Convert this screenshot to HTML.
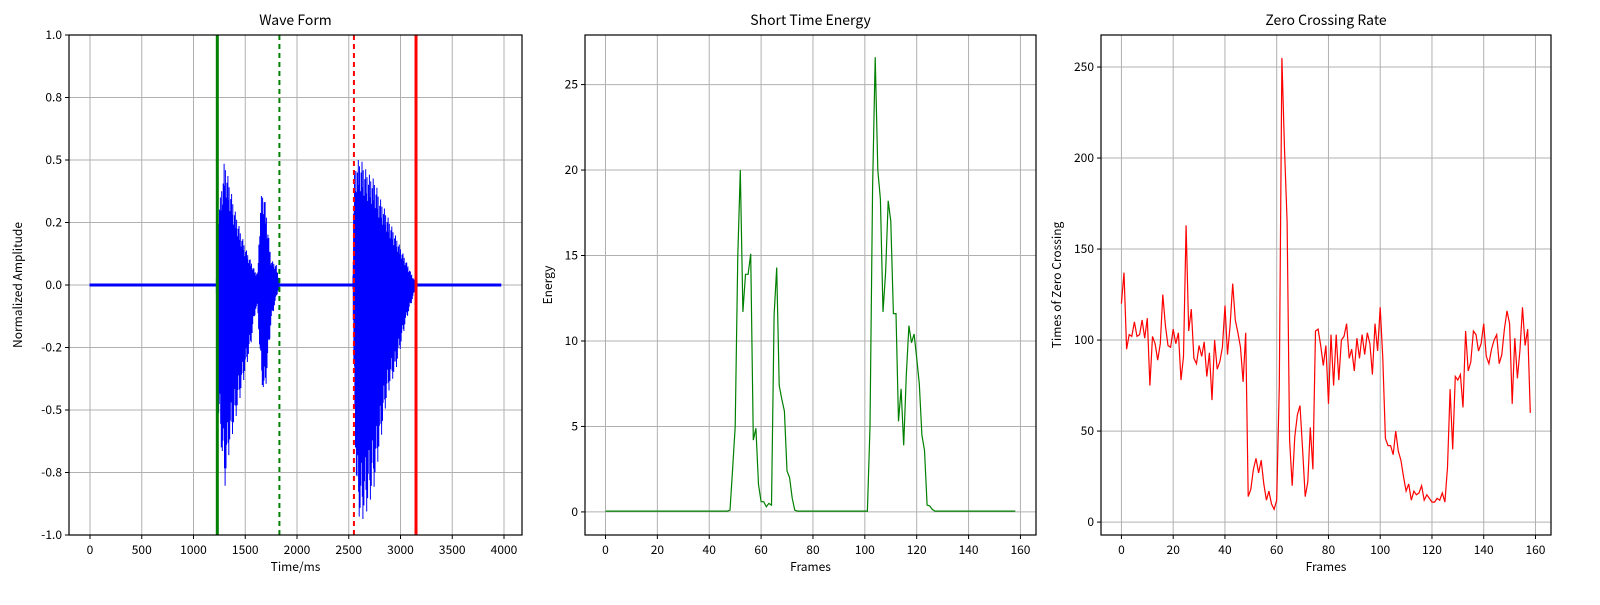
<!DOCTYPE html>
<html><head><meta charset="utf-8"><style>
body{margin:0;background:#fff}
svg text{font-family:"Noto Sans CJK SC","Liberation Sans",sans-serif;fill:#000}
</style></head><body>
<svg id="fig" width="1600" height="600" xmlns="http://www.w3.org/2000/svg"></svg>
<script>
// Wave form envelope (ms, max, min)
const waveTimes=[0,1220,1230,1260,1300,1350,1400,1450,1500,1550,1600,1620,1650,1680,1700,1750,1800,1830,2540,2550,2580,2620,2680,2750,2800,2850,2900,2950,3000,3050,3100,3150,3970];
const waveMax=[0.006,0.006,0.3,0.35,0.5,0.4,0.3,0.22,0.15,0.1,0.05,0.05,0.35,0.38,0.3,0.1,0.08,0.006,0.006,0.45,0.5,0.5,0.45,0.42,0.35,0.3,0.25,0.2,0.15,0.1,0.05,0.006,0.006];
const waveMin=[-0.006,-0.006,-0.5,-0.6,-0.82,-0.65,-0.55,-0.45,-0.35,-0.25,-0.1,-0.1,-0.35,-0.45,-0.4,-0.15,-0.05,-0.006,-0.006,-0.4,-0.9,-0.95,-0.9,-0.8,-0.65,-0.5,-0.4,-0.35,-0.25,-0.15,-0.08,-0.006,-0.006];
const markerTimes=[1230,1830,2550,3150];
const energy=[];
for(let i=0;i<=47;i++)energy.push(0.05);
energy.push(0.1,2.5,5,15,20,11.7,13.9,13.9,15.1,4.2,4.9,1.6,0.6,0.6,0.3,0.5,0.4,11.5,14.3,7.4,6.6,5.9,2.4,2.0,0.8,0.1);
for(let i=74;i<=101;i++)energy.push(0.05);
energy.push(5,19,26.6,20,18.3,11.7,14,18.2,17,11.6,11.6,5.3,7.2,3.9,8,10.9,9.9,10.4,9,7.5,4.5,3.6,0.4,0.35,0.15);
for(let i=127;i<=158;i++)energy.push(0.05);
const zcr=[120,137,95,103,102,110,102,103,111,101,112,75,102,98,89,98,125,108,97,96,106,98,104,78,91,163,105,117,90,87,97,91,99,80,93,67,100,84,88,96,119,92,108,131,111,104,96,77,104,14,18,29,35,27,34,21,12,17,10,7,12,75,255,205,165,45,20,47,59,64,40,14,22,52,29,105,106,97,86,97,65,103,75,103,78,100,102,109,90,95,83,101,90,103,92,104,98,81,109,94,118,90,46,42,42,37,50,39,34,25,17,21,12,17,15,16,20,12,15,13,11,11,13,12,16,11,30,73,40,80,78,81,63,105,83,88,105,103,94,98,109,91,87,95,100,103,87,92,106,116,109,65,101,79,94,118,97,106,60];
const xTicks1=[0,500,1000,1500,2000,2500,3000,3500,4000];
const yTicks1=[-1.0,-0.8,-0.5,-0.2,0.0,0.2,0.5,0.8,1.0];
const yTicks1Pos=[-1.0,-0.75,-0.5,-0.25,0.0,0.25,0.5,0.75,1.0];
const frameTicks=[0,20,40,60,80,100,120,140,160];
const yTicks2=[0,5,10,15,20,25];
const yTicks3=[0,50,100,150,200,250];

const NS="http://www.w3.org/2000/svg";
const svg=document.getElementById('fig');
function mk(tag,attrs,parent){const e=document.createElementNS(NS,tag);for(const k in attrs)e.setAttribute(k,attrs[k]);(parent||svg).appendChild(e);return e;}
function lin(d0,d1,r0,r1){return v=>r0+(v-d0)*(r1-r0)/(d1-d0);}

function axes(o){
  const g=mk('g',{});
  
  
  const x=lin(o.xd[0],o.xd[1],o.L,o.R), y=lin(o.yd[0],o.yd[1],535,35);
  o.xt.forEach(v=>{const px=x(v);
    const gl=mk('line',{x1:px,x2:px,y1:35,y2:535,stroke:'#b0b0b0','stroke-width':1},g);
    
    mk('line',{x1:px,x2:px,y1:535,y2:539,stroke:'#000'},g);
    const t=mk('text',{x:px,y:554,'font-size':12,'text-anchor':'middle'},g);t.textContent=String(v);
    });
  o.yt.forEach((v,i)=>{const py=y(o.ytp?o.ytp[i]:v);
    const gl=mk('line',{x1:o.L,x2:o.R,y1:py,y2:py,stroke:'#b0b0b0','stroke-width':1},g);
    
    mk('line',{x1:o.L-4,x2:o.L,y1:py,y2:py,stroke:'#000'},g);
    const t=mk('text',{x:o.L-7,y:py+4,'font-size':12,'text-anchor':'end'},g);t.textContent=o.fmt?o.fmt(v):String(v);
    });
  const tt=mk('text',{x:(o.L+o.R)/2,y:25,'font-size':14,'text-anchor':'middle'},g);tt.textContent=o.title;
  
  const xl=mk('text',{x:(o.L+o.R)/2,y:571,'font-size':12,'text-anchor':'middle'},g);xl.textContent=o.xlabel;
  
  const yl=mk('text',{x:0,y:0,'font-size':12,'text-anchor':'middle',transform:`translate(${o.ylx},285) rotate(-90)`},g);yl.textContent=o.ylabel;
  
  return {g,x,y};
}
function frame(g,L,R){const f=mk('rect',{x:L,y:35,width:R-L,height:500,fill:'none',stroke:'#000','stroke-width':1.2},g);
  }

// Plot 1
const a1=axes({name:'wave-form-chart',L:69,R:522,xd:[-203,4174],yd:[-1,1],xt:xTicks1,yt:yTicks1,ytp:yTicks1Pos,fmt:v=>v.toFixed(1),title:'Wave Form',xlabel:'Time/ms',ylabel:'Normalized Amplitude',ylx:22});
const modA=[1,0.55,0.8,0.4,0.95,0.65,0.3,0.75,0.5,0.9,0.45,0.7];
const modB=[0.65,0.9,0.4,1,0.55,0.8,0.95,0.35,0.85,0.5,0.75,0.6];
let d='';let n=0;
for(let t=0;t<=3970;t+=3){
  let k=0;while(k<waveTimes.length-2&&waveTimes[k+1]<=t)k++;
  const f=(t-waveTimes[k])/(waveTimes[k+1]-waveTimes[k]);
  const mx=waveMax[k]+(waveMax[k+1]-waveMax[k])*f, mn=waveMin[k]+(waveMin[k+1]-waveMin[k])*f;
  const big=Math.max(mx,-mn)>0.03;
  const up=big?mx*modA[n%12]:mx, dn=big?mn*modB[n%12]:mn;
  n++;
  d+=`M${a1.x(t).toFixed(1)},${a1.y(up).toFixed(1)}V${a1.y(dn).toFixed(1)}`;
}
const wp=mk('path',{d,stroke:'#0000ff','stroke-width':1,fill:'none'},a1.g);

const mcol=['#008000','#008000','#ff0000','#ff0000'],mdash=['','5,4','5,4',''],mw=[3,2,2,3];
markerTimes.forEach((t,i)=>{const l=mk('line',{x1:a1.x(t),x2:a1.x(t),y1:35,y2:535,stroke:mcol[i],'stroke-width':mw[i],'stroke-dasharray':mdash[i]},a1.g);
  });
frame(a1.g,69,522);

// Plot 2
const a2=axes({name:'short-time-energy-chart',L:585,R:1036,xd:[-7.9,166],yd:[-1.35,27.9],xt:frameTicks,yt:yTicks2,title:'Short Time Energy',xlabel:'Frames',ylabel:'Energy',ylx:552});
const ep=mk('path',{d:'M'+energy.map((v,i)=>a2.x(i).toFixed(1)+','+a2.y(v).toFixed(1)).join('L'),stroke:'#008000','stroke-width':1.2,fill:'none'},a2.g);

frame(a2.g,585,1036);

// Plot 3
const a3=axes({name:'zero-crossing-rate-chart',L:1101,R:1551,xd:[-7.9,166],yd:[-7.1,267.6],xt:frameTicks,yt:yTicks3,title:'Zero Crossing Rate',xlabel:'Frames',ylabel:'Times of Zero Crossing',ylx:1061});
const zp=mk('path',{d:'M'+zcr.map((v,i)=>a3.x(i).toFixed(1)+','+a3.y(v).toFixed(1)).join('L'),stroke:'#ff0000','stroke-width':1.2,fill:'none'},a3.g);

frame(a3.g,1101,1551);
</script>
</body></html>
